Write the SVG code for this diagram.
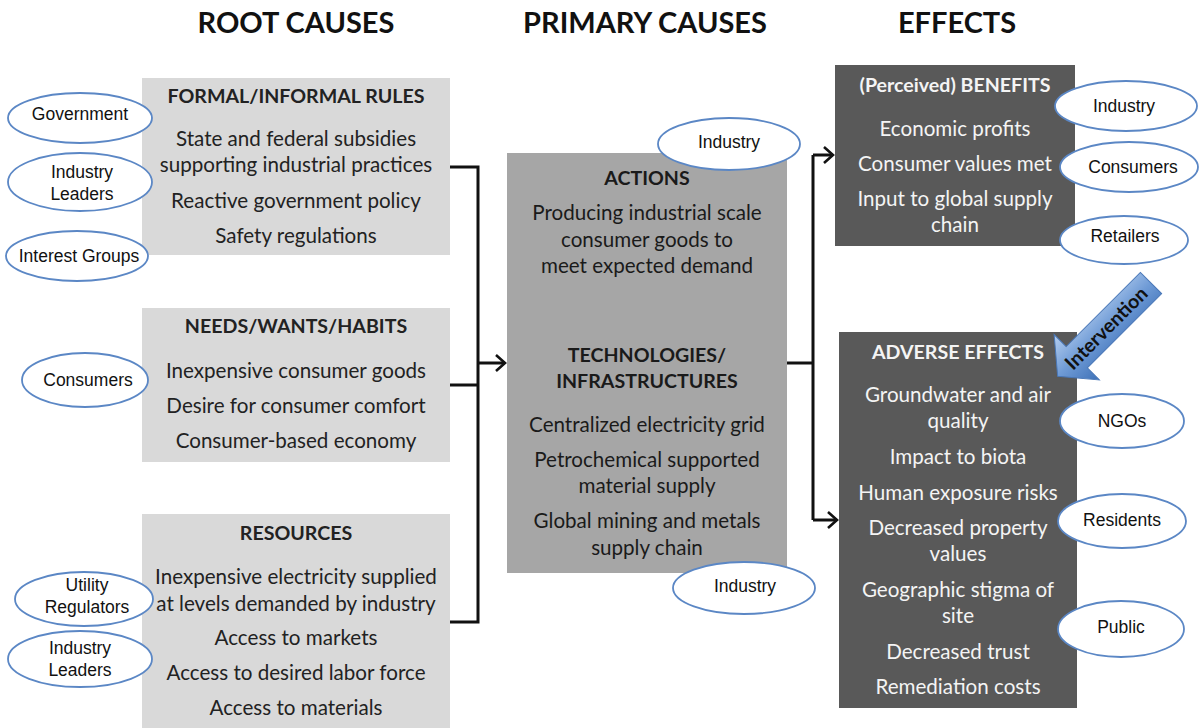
<svg xmlns="http://www.w3.org/2000/svg" width="1202" height="728" viewBox="0 0 1202 728">
  <style>
    .title { font-family: Lato, "Open Sans", sans-serif; font-weight: bold; font-size: 29px; fill: #111; text-anchor: middle; }
    .box text { font-family: Lato, "Open Sans", sans-serif; font-size: 20.6px; text-anchor: middle; }
    .box .hd { font-weight: bold; font-size: 19.6px; }
    .light rect { fill: #d9d9d9; }
    .light text { fill: #222; }
    .mid rect { fill: #a6a6a6; }
    .mid text { fill: #1a1a1a; }
    .dark rect { fill: #595959; }
    .dark text { fill: #f4f4f4; }
    .oval ellipse { fill: #fff; stroke: #5b87c5; stroke-width: 1.8; }
    .oval text { font-family: "Liberation Sans", Arial, sans-serif; font-size: 17.5px; fill: #111; text-anchor: middle; }
    .wire { fill: none; stroke: #111; stroke-width: 3; }
    .tip { fill: none; stroke: #111; stroke-width: 2.6; stroke-linejoin: miter; }
  </style>
  <defs>
    <linearGradient id="blueArrow" gradientUnits="userSpaceOnUse" x1="0" y1="-31" x2="0" y2="31">
      <stop offset="0" stop-color="#3f72b8"/>
      <stop offset="0.5" stop-color="#6f9bd6"/>
      <stop offset="1" stop-color="#b4cdee"/>
    </linearGradient>
  </defs>
  <rect width="1202" height="728" fill="#fff"/>

  <!-- column headings -->
  <text class="title" x="296" y="33">ROOT CAUSES</text>
  <text class="title" x="645" y="33">PRIMARY CAUSES</text>
  <text class="title" x="957" y="33">EFFECTS</text>

  <!-- connectors -->
  <g id="connectors">
    <path class="wire" d="M450,167 H478 V622 H450"/>
    <path class="wire" d="M450,385 H478"/>
    <path class="wire" d="M478,363 H505"/>
    <path class="tip" d="M496,355 L505,363 L496,371"/>
    <path class="wire" d="M787,363 H813"/>
    <path class="wire" d="M813,155 V520"/>
    <path class="wire" d="M813,155 H833"/>
    <path class="tip" d="M824,147 L833,155 L824,163"/>
    <path class="wire" d="M813,520 H837"/>
    <path class="tip" d="M828,512 L837,520 L828,528"/>
  </g>

  <!-- root causes -->
  <g id="rules" class="box light">
    <rect x="142" y="78" width="308" height="177"/>
    <text class="hd" x="296" y="103">FORMAL/INFORMAL RULES</text>
    <text x="296" y="146">State and federal subsidies</text>
    <text x="296" y="172">supporting industrial practices</text>
    <text x="296" y="208">Reactive government policy</text>
    <text x="296" y="243">Safety regulations</text>
  </g>
  <g id="needs" class="box light">
    <rect x="142" y="308" width="308" height="154"/>
    <text class="hd" x="296" y="333">NEEDS/WANTS/HABITS</text>
    <text x="296" y="378">Inexpensive consumer goods</text>
    <text x="296" y="413">Desire for consumer comfort</text>
    <text x="296" y="448">Consumer-based economy</text>
  </g>
  <g id="resources" class="box light">
    <rect x="142" y="514" width="308" height="214"/>
    <text class="hd" x="296" y="540">RESOURCES</text>
    <text x="296" y="584">Inexpensive electricity supplied</text>
    <text x="296" y="611">at levels demanded by industry</text>
    <text x="296" y="645">Access to markets</text>
    <text x="296" y="680">Access to desired labor force</text>
    <text x="296" y="715">Access to materials</text>
  </g>

  <!-- primary causes -->
  <g id="primary" class="box mid">
    <rect x="507" y="153" width="280" height="420"/>
    <text class="hd" x="647" y="185">ACTIONS</text>
    <text x="647" y="220">Producing industrial scale</text>
    <text x="647" y="247">consumer goods to</text>
    <text x="647" y="273">meet expected demand</text>
    <text class="hd" x="647" y="362">TECHNOLOGIES/</text>
    <text class="hd" x="647" y="388">INFRASTRUCTURES</text>
    <text x="647" y="432">Centralized electricity grid</text>
    <text x="647" y="467">Petrochemical supported</text>
    <text x="647" y="493">material supply</text>
    <text x="647" y="528">Global mining and metals</text>
    <text x="647" y="555">supply chain</text>
  </g>

  <!-- effects -->
  <g id="benefits" class="box dark">
    <rect x="835" y="65" width="240" height="181"/>
    <text class="hd" x="955" y="92">(Perceived) BENEFITS</text>
    <text x="955" y="136">Economic profits</text>
    <text x="955" y="171">Consumer values met</text>
    <text x="955" y="206">Input to global supply</text>
    <text x="955" y="232">chain</text>
  </g>
  <g id="adverse" class="box dark">
    <rect x="839" y="332" width="238" height="376"/>
    <text class="hd" x="958" y="359">ADVERSE EFFECTS</text>
    <text x="958" y="402">Groundwater and air</text>
    <text x="958" y="428">quality</text>
    <text x="958" y="464">Impact to biota</text>
    <text x="958" y="500">Human exposure risks</text>
    <text x="958" y="535">Decreased property</text>
    <text x="958" y="561">values</text>
    <text x="958" y="597">Geographic stigma of</text>
    <text x="958" y="623">site</text>
    <text x="958" y="659">Decreased trust</text>
    <text x="958" y="694">Remediation costs</text>
  </g>

  <!-- intervention arrow -->
  <g id="intervention">
    <polygon transform="translate(1151,283) rotate(135)" points="0,-15 105,-15 105,-32 132,0 105,32 105,15 0,15" fill="url(#blueArrow)" stroke="#4a78b8" stroke-width="1"/>
    <text transform="translate(1106,328) rotate(-45)" x="0" y="7" font-family="Lato, 'Open Sans', sans-serif" font-weight="bold" font-size="19.5" fill="#111" text-anchor="middle">Intervention</text>
  </g>

  <!-- stakeholders -->
  <g id="oval-government" class="oval"><ellipse cx="80" cy="118" rx="72" ry="25"/><text x="80" y="120">Government</text></g>
  <g id="oval-industry-leaders-1" class="oval"><ellipse cx="80" cy="182" rx="72" ry="29"/><text x="82" y="178">Industry</text><text x="82" y="200">Leaders</text></g>
  <g id="oval-interest-groups" class="oval"><ellipse cx="77" cy="256" rx="71" ry="25"/><text x="79" y="262">Interest Groups</text></g>
  <g id="oval-consumers-left" class="oval"><ellipse cx="85" cy="380" rx="63" ry="27"/><text x="88" y="386">Consumers</text></g>
  <g id="oval-utility-regulators" class="oval"><ellipse cx="84" cy="599" rx="69" ry="27"/><text x="87" y="591">Utility</text><text x="87" y="613">Regulators</text></g>
  <g id="oval-industry-leaders-2" class="oval"><ellipse cx="80" cy="659" rx="72" ry="28"/><text x="80" y="654">Industry</text><text x="80" y="676">Leaders</text></g>
  <g id="oval-industry-actions" class="oval"><ellipse cx="729" cy="144" rx="71" ry="26"/><text x="729" y="148">Industry</text></g>
  <g id="oval-industry-tech" class="oval"><ellipse cx="744" cy="588" rx="71" ry="26"/><text x="745" y="592">Industry</text></g>
  <g id="oval-industry-benefits" class="oval"><ellipse cx="1126" cy="106" rx="71" ry="25"/><text x="1124" y="112">Industry</text></g>
  <g id="oval-consumers-right" class="oval"><ellipse cx="1129" cy="167" rx="69" ry="25"/><text x="1133" y="173">Consumers</text></g>
  <g id="oval-retailers" class="oval"><ellipse cx="1124" cy="240" rx="64" ry="24"/><text x="1125" y="242">Retailers</text></g>
  <g id="oval-ngos" class="oval"><ellipse cx="1122" cy="421" rx="62" ry="27"/><text x="1122" y="427">NGOs</text></g>
  <g id="oval-residents" class="oval"><ellipse cx="1122" cy="521" rx="64" ry="27"/><text x="1122" y="526">Residents</text></g>
  <g id="oval-public" class="oval"><ellipse cx="1121" cy="629" rx="63" ry="28"/><text x="1121" y="633">Public</text></g>
</svg>
